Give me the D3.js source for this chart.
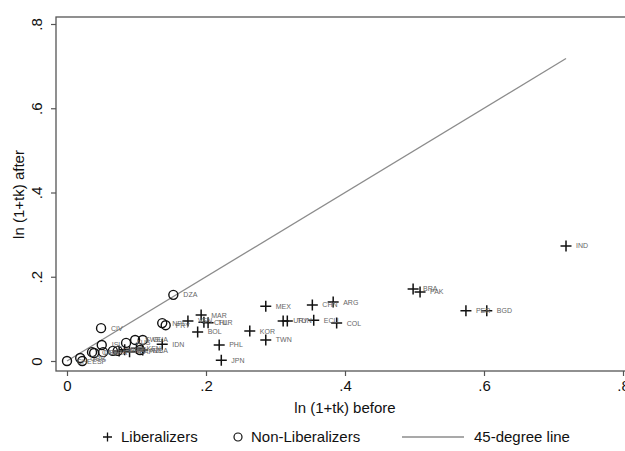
<!DOCTYPE html>
<html>
<head>
<meta charset="utf-8">
<script src="https://cdn.jsdelivr.net/npm/d3@7"></script>
<style>
  body { margin: 0; background: #fff; }
  text { font-family: "Liberation Sans", Arial, sans-serif; }
</style>
</head>
<body>
<div id="chart"></div>
<script>
// liberalizers: [before, after, code]
const liberalizers = [
  [0.718, 0.273, "IND"], [0.498, 0.171, "BRA"], [0.508, 0.164, "PAK"],
  [0.574, 0.119, "PER"], [0.604, 0.119, "BGD"], [0.286, 0.130, "MEX"],
  [0.353, 0.133, "CHN"], [0.383, 0.140, "ARG"], [0.311, 0.095, "URY"],
  [0.317, 0.095, "TUN"], [0.355, 0.097, "ECU"], [0.388, 0.090, "COL"],
  [0.263, 0.071, "KOR"], [0.286, 0.050, "TWN"], [0.219, 0.038, "PHL"],
  [0.222, 0.002, "JPN"], [0.193, 0.109, "MAR"], [0.174, 0.095, "VEN"],
  [0.197, 0.092, "CHL"], [0.203, 0.091, "TUR"], [0.188, 0.069, "BOL"],
  [0.137, 0.040, "IDN"], [0.109, 0.026, "NGA"], [0.100, 0.030, "KEN"],
  [0.090, 0.022, "ZAF"], [0.075, 0.024, "GHA"], [0.083, 0.027, "ISR"]
];

const nonLiberalizers = [
  [0.153, 0.157, "DZA"], [0.049, 0.078, "CIV"], [0.137, 0.090, "NPL"],
  [0.142, 0.085, "PRY"], [0.050, 0.038, "ISL"], [0.085, 0.043, "AUS"],
  [0.098, 0.050, "SWE"], [0.109, 0.050, "GUA"], [0.036, 0.021, "CAN"],
  [0.039, 0.019, "USA"], [0.052, 0.021, "FRA"], [0.066, 0.024, "ITA"],
  [0.073, 0.024, "NLD"], [0.105, 0.026, "NZL"], [0.000, 0.000, "CHE"],
  [0.019, 0.007, "GBR"], [0.022, 0.000, "ESP"]
];

const ticks = [0, 0.2, 0.4, 0.6, 0.8];
const legendItems = ["Liberalizers", "Non-Liberalizers", "45-degree line"];

const width = 625, height = 451;

const x = d3.scaleLinear().domain([0, 0.8]).range([67, 623]);
const y = d3.scaleLinear().domain([0, 0.8]).range([361, 24]);

const svg = d3.select("#chart").append("svg")
    .attr("width", width)
    .attr("height", height);

const fmt = d => d === 0 ? "0" : d3.format(".1f")(d).replace(/^0/, "");

// frame
svg.append("rect")
    .attr("x", 56).attr("y", 17)
    .attr("width", 600).attr("height", 354)
    .attr("fill", "none")
    .attr("stroke", "#555")
    .attr("stroke-width", 1.3);

// x axis
const xAxis = svg.append("g").attr("transform", "translate(0,371)")
    .call(d3.axisBottom(x).tickValues(ticks).tickFormat(fmt).tickSize(5).tickPadding(4));
xAxis.select(".domain").remove();
xAxis.selectAll(".tick line").attr("stroke", "#555").attr("stroke-width", 1.2);
xAxis.selectAll(".tick text").attr("font-size", 15).attr("fill", "#111")
    .attr("font-family", "Liberation Sans, Arial, sans-serif");

// y axis
const yAxis = svg.append("g").attr("transform", "translate(56,0)")
    .call(d3.axisLeft(y).tickValues(ticks).tickFormat(fmt).tickSize(5).tickPadding(4));
yAxis.select(".domain").remove();
yAxis.selectAll(".tick line").attr("stroke", "#555").attr("stroke-width", 1.2);
yAxis.selectAll(".tick text")
    .attr("font-size", 15).attr("fill", "#111")
    .attr("font-family", "Liberation Sans, Arial, sans-serif")
    .attr("text-anchor", "middle")
    .attr("x", null).attr("dy", null)
    .attr("transform", "translate(-19,0) rotate(-90)")
    .attr("dy", "0.35em");

// axis titles
svg.append("text")
    .attr("x", (x(0) + x(0.8)) / 2).attr("y", 413)
    .attr("text-anchor", "middle")
    .attr("font-size", 15).attr("fill", "#111")
    .text("ln (1+tk) before");

svg.append("text")
    .attr("transform", `translate(24,${(y(0) + y(0.8)) / 2 + 2}) rotate(-90)`)
    .attr("text-anchor", "middle")
    .attr("font-size", 15).attr("fill", "#111")
    .text("ln (1+tk) after");

// 45-degree line
const allX = liberalizers.concat(nonLiberalizers).map(d => d[0]);
const lo = d3.min(allX), hi = d3.max(allX);
svg.append("line")
    .attr("x1", x(lo)).attr("y1", y(lo))
    .attr("x2", x(hi)).attr("y2", y(hi))
    .attr("stroke", "#8c8c8c")
    .attr("stroke-width", 1.3);

// circles
const circ = svg.append("g");
circ.selectAll("circle")
  .data(nonLiberalizers)
  .join("circle")
    .attr("cx", d => x(d[0]))
    .attr("cy", d => y(d[1]))
    .attr("r", 4.5)
    .attr("fill", "none")
    .attr("stroke", "#111")
    .attr("stroke-width", 1.4);

// plus markers
const plus = svg.append("g");
plus.selectAll("path")
  .data(liberalizers)
  .join("path")
    .attr("d", d => {
      const cx = x(d[0]), cy = y(d[1]), s = 5.5;
      return `M${cx - s},${cy}H${cx + s}M${cx},${cy - s}V${cy + s}`;
    })
    .attr("stroke", "#111")
    .attr("stroke-width", 1.5);

// point labels
svg.append("g")
  .selectAll("text")
  .data(liberalizers.concat(nonLiberalizers))
  .join("text")
    .attr("x", d => x(d[0]) + 10)
    .attr("y", d => y(d[1]) + 2.5)
    .attr("font-size", 7)
    .attr("fill", "#666")
    .text(d => d[2]);

// legend
const ly = 437;
const leg = svg.append("g");
leg.append("path")
    .attr("d", `M103,${ly}H112M107.5,${ly - 4.5}V${ly + 4.5}`)
    .attr("stroke", "#111").attr("stroke-width", 1.3);
leg.append("text").attr("x", 121).attr("y", ly + 5)
    .attr("font-size", 15).attr("fill", "#111").text(legendItems[0]);
leg.append("circle").attr("cx", 238).attr("cy", ly).attr("r", 4)
    .attr("fill", "none").attr("stroke", "#111").attr("stroke-width", 1.2);
leg.append("text").attr("x", 251).attr("y", ly + 5)
    .attr("font-size", 15).attr("fill", "#111").text(legendItems[1]);
leg.append("line").attr("x1", 402).attr("x2", 464).attr("y1", ly).attr("y2", ly)
    .attr("stroke", "#8c8c8c").attr("stroke-width", 1.3);
leg.append("text").attr("x", 474).attr("y", ly + 5)
    .attr("font-size", 15).attr("fill", "#111").text(legendItems[2]);
</script>
</body>
</html>
